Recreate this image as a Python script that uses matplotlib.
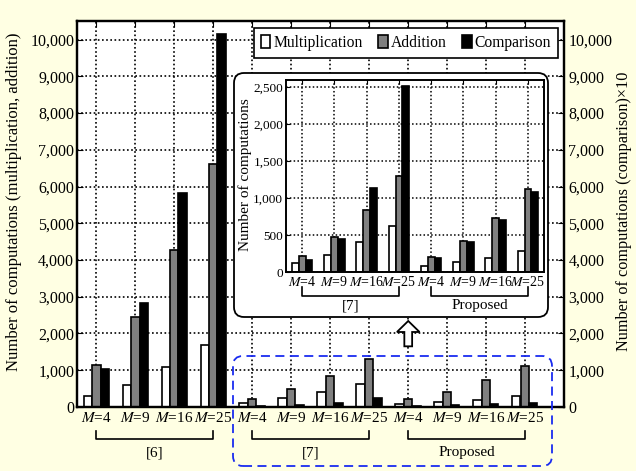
import numpy as np
import matplotlib.pyplot as plt
from matplotlib.patches import FancyBboxPatch, FancyArrow
from matplotlib.ticker import StrMethodFormatter
from matplotlib.transforms import blended_transform_factory

plt.rcParams['font.family'] = ['Liberation Serif', 'DejaVu Serif']
plt.rcParams['mathtext.fontset'] = 'stix'

# data
groups = ['$M$=4', '$M$=9', '$M$=16', '$M$=25'] * 3
methods = ['[6]', '[7]', 'Proposed']
mult = [300, 610, 1080, 1680, 120, 235, 405, 620, 85, 135, 195, 285]
add = [1150, 2450, 4260, 6610, 220, 480, 840, 1300, 205, 420, 730, 1120]
comp = [10200, 28200, 58200, 101500, 165, 450, 1135, 2525, 190, 400, 700, 1090]
comp10 = [c / 10 for c in comp]  # right axis is comparison/10

dots = (0, (1, 1.5))

fig = plt.figure(figsize=(6.36, 4.71), dpi=100, facecolor='#ffffe3')
ax = fig.add_axes([0.121, 0.136, 0.766, 0.819])
ax.set_zorder(1)

x = np.arange(len(groups))
w = 0.21
ax.bar(x - 0.225, mult, w, color='white', edgecolor='black', lw=1.2, label='Multiplication')
ax.bar(x, add, w, color='#808080', edgecolor='black', lw=1.2, label='Addition')
ax.bar(x + 0.21, comp10, w, color='black', edgecolor='black', lw=1.2, label='Comparison')

ax.set_xlim(-0.5, 12.0)
ax.set_ylim(0, 10500)
ax.set_yticks(range(0, 10001, 1000))
ax.yaxis.set_major_formatter(StrMethodFormatter('{x:,.0f}'))
ax.set_xticks(x)
ax.set_xticklabels(groups, fontsize=11)
ax.tick_params(axis='y', labelsize=11.5, direction='in', length=4, pad=2)
ax.tick_params(axis='x', direction='in', length=4, pad=3, top=True)
ax.grid(True, linestyle=dots, color='black', lw=1.2)
ax.set_axisbelow(True)
for s in ax.spines.values():
    s.set_linewidth(1.6)
ax.set_ylabel('Number of computations (multiplication, addition)', fontsize=12)
ax.yaxis.set_label_coords(-0.112, 0.531)

leg = ax.legend(loc='upper right', bbox_to_anchor=(0.988, 0.982), ncol=3,
                fancybox=False, edgecolor='black', framealpha=1, fontsize=11.25,
                handlelength=0.6, handleheight=0.9, handletextpad=0.2,
                columnspacing=1.0, borderpad=0.45, borderaxespad=0)
leg.get_frame().set_linewidth(1.2)

ax2 = ax.twinx()
ax2.set_zorder(2)
ax2.set_ylim(0, 10500)
ax2.set_yticks(range(0, 10001, 1000))
ax2.yaxis.set_major_formatter(StrMethodFormatter('{x:,.0f}'))
ax2.tick_params(axis='y', labelsize=11.5, direction='in', length=4, pad=3)
for s in ax2.spines.values():
    s.set_linewidth(1.6)
ax2.set_ylabel('Number of computations (comparison)×10', fontsize=11.7)
ax2.yaxis.set_label_coords(1.107, 0.508)

# brackets under the main axes
tr = blended_transform_factory(ax.transData, ax.transAxes)
for k, m in enumerate(methods):
    x0, x1 = 4 * k, 4 * k + 3
    ax.plot([x0, x0, x1, x1], [-0.062, -0.083, -0.083, -0.062], transform=tr,
            clip_on=False, color='black', lw=1.2)
    ax.text((x0 + x1) / 2, -0.119, m, transform=tr, ha='center', va='center', fontsize=11)

# hollow arrow pointing to the inset
ax.add_patch(FancyArrow(8, 1650, 0, 690, width=0.2, head_width=0.58, head_length=300,
                        length_includes_head=True, facecolor='white', edgecolor='black',
                        lw=1.3, zorder=5))

# inset frame
box = FancyBboxPatch((2.34, 1.54), 3.14, 2.44, boxstyle='round,pad=0,rounding_size=0.1',
                     transform=fig.dpi_scale_trans, facecolor='white', edgecolor='black',
                     lw=1.3, zorder=3)
fig.add_artist(box)

axi = fig.add_axes([0.4497, 0.4225, 0.4057, 0.4076])
axi.set_zorder(4)
xi = np.arange(8)
axi.bar(xi - 0.21, mult[4:], w, color='white', edgecolor='black', lw=1.2)
axi.bar(xi, add[4:], w, color='#808080', edgecolor='black', lw=1.2)
axi.bar(xi + 0.21, comp[4:], w, color='black', edgecolor='black', lw=1.2)
axi.set_xlim(-0.5, 7.5)
axi.set_ylim(0, 2600)
axi.set_yticks(range(0, 2501, 500))
axi.yaxis.set_major_formatter(StrMethodFormatter('{x:,.0f}'))
axi.set_xticks(xi)
axi.set_xticklabels(groups[4:], fontsize=10)
axi.tick_params(axis='y', labelsize=9.5, direction='in', length=3, pad=2)
axi.tick_params(axis='x', direction='in', length=3, pad=2, top=True)
axi.grid(True, linestyle=dots, color='black', lw=1.1)
axi.set_axisbelow(True)
for s in axi.spines.values():
    s.set_linewidth(1.4)
axi.set_ylabel('Number of computations', fontsize=11)
axi.yaxis.set_label_coords(-0.132, 0.505)

tri = blended_transform_factory(axi.transData, axi.transAxes)
for k, m in enumerate(methods[1:]):
    x0, x1 = 4 * k, 4 * k + 3
    axi.plot([x0, x0, x1, x1], [-0.078, -0.125, -0.125, -0.078], transform=tri,
             clip_on=False, color='black', lw=1.2)
    axi.text((x0 + x1) / 2, -0.177, m, transform=tri, ha='center', va='center', fontsize=11)

# blue dashed frame around the small bars
blue = FancyBboxPatch((2.33, 0.05), 3.19, 1.10, boxstyle='round,pad=0,rounding_size=0.1',
                      transform=fig.dpi_scale_trans, fill=False, edgecolor='#1a2cf0',
                      lw=1.3, linestyle=(0, (5, 3)), zorder=5)
fig.add_artist(blue)

fig.savefig('out.png', dpi=100, facecolor=fig.get_facecolor())
